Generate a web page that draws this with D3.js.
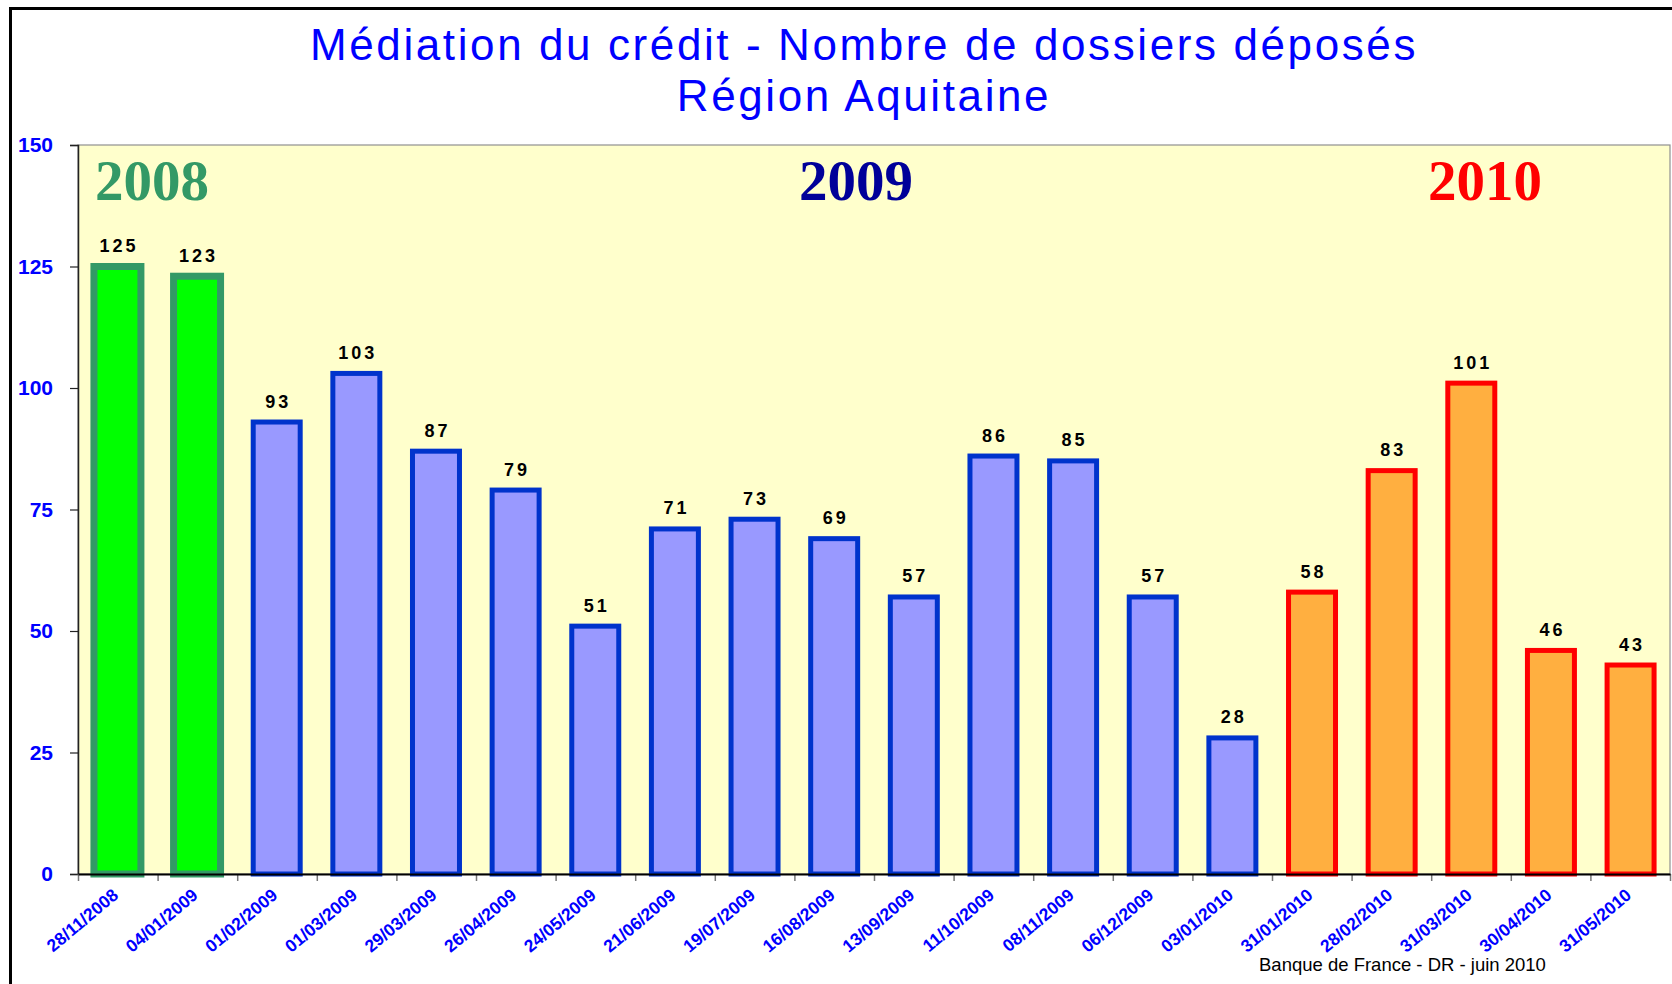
<!DOCTYPE html>
<html>
<head>
<meta charset="utf-8">
<script src="https://cdn.jsdelivr.net/npm/d3@7"></script>
<style>
  body { margin: 0; background: #fff; }
  svg { display: block; }
</style>
</head>
<body>
<svg></svg>
<script>
// data
var dates = ["28/11/2008", "04/01/2009", "01/02/2009", "01/03/2009", "29/03/2009",
             "26/04/2009", "24/05/2009", "21/06/2009", "19/07/2009", "16/08/2009",
             "13/09/2009", "11/10/2009", "08/11/2009", "06/12/2009", "03/01/2010",
             "31/01/2010", "28/02/2010", "31/03/2010", "30/04/2010", "31/05/2010"];
var dossiers = [125, 123, 93, 103, 87, 79, 51, 71, 73, 69, 57, 86, 85, 57, 28, 58, 83, 101, 46, 43];
// reporting year each bar belongs to (colour group)
var groups = ["2008", "2008", "2009", "2009", "2009", "2009", "2009", "2009", "2009", "2009",
              "2009", "2009", "2009", "2009", "2009", "2010", "2010", "2010", "2010", "2010"];
var years = ["2008", "2009", "2010"];
var yTicks = [0, 25, 50, 75, 100, 125, 150];

var width = 1672;
var height = 984;
var plotLeft = 78, plotRight = 1670, plotTop = 145, plotBottom = 874;

var styles = {
  "2008": { fill: "#00FF00", stroke: "#339966", sw: 7, label: "#339966" },
  "2009": { fill: "#9999FF", stroke: "#0033CC", sw: 5, label: "#000099" },
  "2010": { fill: "#FFAF40", stroke: "#FF0000", sw: 5, label: "#FF0000" }
};

var svg = d3.select("svg")
    .attr("width", width)
    .attr("height", height);

var xScale = d3.scaleBand()
    .domain(dates)
    .range([plotLeft, plotRight])
    .paddingInner(0.41)
    .paddingOuter(0.2);

var yScale = d3.scaleLinear()
    .domain([0, 150])
    .range([plotBottom, plotTop]);

// outer frame
svg.append("path")
    .attr("d", "M10.5," + height + " V8.5 H" + width)
    .attr("fill", "none")
    .attr("stroke", "#000")
    .attr("stroke-width", 3);

// title
var title = svg.append("text")
    .attr("text-anchor", "middle")
    .style("font-family", "'Liberation Sans', Arial, sans-serif")
    .style("font-size", "44px")
    .style("letter-spacing", "2.6px")
    .attr("fill", "#0000FF");
title.append("tspan").attr("x", 864).attr("y", 60)
    .text("Médiation du crédit - Nombre de dossiers déposés");
title.append("tspan").attr("x", 864).attr("y", 111)
    .text("Région Aquitaine");

// plot area
svg.append("rect")
    .attr("x", plotLeft)
    .attr("y", plotTop)
    .attr("width", plotRight - plotLeft)
    .attr("height", plotBottom - plotTop)
    .attr("fill", "#FFFFCC")
    .attr("stroke", "#909090")
    .attr("stroke-width", 1.2);

// year labels
var yearX = { "2008": 152, "2009": 856, "2010": 1485 };
svg.selectAll(".year")
    .data(years)
    .enter()
    .append("text")
      .attr("class", "year")
      .attr("x", d => yearX[d])
      .attr("y", 200)
      .attr("text-anchor", "middle")
      .style("font-family", "'Liberation Serif', 'Times New Roman', serif")
      .style("font-weight", "bold")
      .style("font-size", "57px")
      .attr("fill", d => styles[d].label)
      .text(d => d);

// bars
svg.selectAll(".bar")
    .data(dates)
    .enter()
    .append("rect")
      .attr("class", "bar")
      .attr("x", d => xScale(d))
      .attr("y", (d, i) => yScale(dossiers[i]))
      .attr("width", xScale.bandwidth())
      .attr("height", (d, i) => yScale(0) - yScale(dossiers[i]))
      .attr("fill", (d, i) => styles[groups[i]].fill)
      .attr("stroke", (d, i) => styles[groups[i]].stroke)
      .attr("stroke-width", (d, i) => styles[groups[i]].sw);

// value labels
svg.selectAll(".val")
    .data(dates)
    .enter()
    .append("text")
      .attr("class", "val")
      .attr("x", d => xScale(d) + xScale.bandwidth() / 2 + 1.5)
      .attr("y", (d, i) => yScale(dossiers[i]) - 14.5)
      .attr("text-anchor", "middle")
      .style("font-family", "'Liberation Sans', Arial, sans-serif")
      .style("font-weight", "bold")
      .style("font-size", "18px")
      .style("letter-spacing", "3px")
      .attr("fill", "#000")
      .text((d, i) => dossiers[i]);

// y axis
var yAxis = d3.axisLeft(yScale)
    .tickValues(yTicks)
    .tickSize(8)
    .tickPadding(17);

var gy = svg.append("g")
    .attr("transform", "translate(" + plotLeft + ",0)")
    .call(yAxis);
gy.select(".domain").attr("stroke", "#222").attr("stroke-width", 1.5);
gy.selectAll(".tick line").attr("stroke", "#222").attr("stroke-width", 1.2);
gy.selectAll(".tick text")
    .style("font-family", "'Liberation Sans', Arial, sans-serif")
    .style("font-weight", "bold")
    .style("font-size", "21px")
    .attr("fill", "#0000FF");

// x axis: tick marks sit between categories
var edgeScale = d3.scaleLinear().domain([0, dates.length]).range([plotLeft, plotRight]);
var gEdge = svg.append("g")
    .attr("transform", "translate(0," + plotBottom + ")")
    .call(d3.axisBottom(edgeScale).tickValues(d3.range(dates.length + 1)).tickSize(7).tickFormat(""));
gEdge.select(".domain").remove();
gEdge.selectAll(".tick line").attr("stroke", "#777").attr("stroke-width", 1.5);

var gx = svg.append("g")
    .attr("transform", "translate(0," + plotBottom + ")")
    .call(d3.axisBottom(xScale).tickSize(0));
gx.select(".domain").attr("stroke", "#000").attr("stroke-width", 2);
gx.selectAll(".tick text")
    .attr("x", 0)
    .attr("y", 0)
    .attr("dy", null)
    .attr("text-anchor", "end")
    .attr("transform", "translate(2,23) rotate(-40)")
    .style("font-family", "'Liberation Sans', Arial, sans-serif")
    .style("font-weight", "bold")
    .style("font-size", "17.5px")
    .attr("fill", "#0000FF");

// source
svg.append("text")
    .attr("x", 1259)
    .attr("y", 971)
    .style("font-family", "'Liberation Sans', Arial, sans-serif")
    .style("font-size", "18.5px")
    .attr("fill", "#000")
    .text("Banque de France - DR - juin 2010");
</script>
</body>
</html>
